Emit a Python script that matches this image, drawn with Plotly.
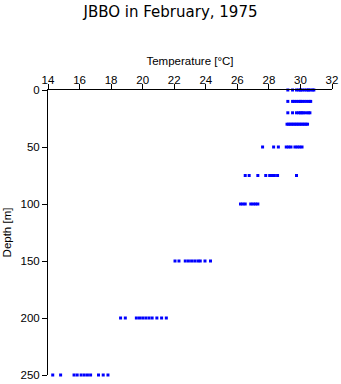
import plotly.graph_objects as go

depths = [0, 10, 20, 30, 50, 75, 100, 150, 200, 250]
temps = {
    0: [29.2, 29.5, 29.75, 29.9, 30.0, 30.1, 30.25, 30.4, 30.5, 30.6, 30.75, 30.85],
    10: [29.2, 29.5, 29.6, 29.75, 29.9, 30.0, 30.1, 30.25, 30.4, 30.55, 30.65],
    20: [29.2, 29.5, 29.75, 29.9, 30.0, 30.1, 30.2, 30.35, 30.5, 30.6],
    30: [29.15, 29.25, 29.35, 29.45, 29.55, 29.65, 29.75, 29.85, 29.95, 30.05,
         30.15, 30.25, 30.35, 30.45],
    50: [27.6, 28.3, 28.6, 29.1, 29.25, 29.4, 29.65, 29.8, 29.95, 30.1],
    75: [26.5, 26.75, 27.3, 27.8, 28.05, 28.2, 28.35, 28.55, 29.75],
    100: [26.2, 26.35, 26.5, 26.85, 27.0, 27.15, 27.3],
    150: [22.05, 22.3, 22.7, 22.9, 23.1, 23.3, 23.5, 23.65, 23.95, 24.3],
    200: [18.6, 18.9, 19.6, 19.8, 20.0, 20.2, 20.4, 20.6, 20.9, 21.2, 21.5],
    250: [14.3, 14.8, 15.65, 15.85, 16.1, 16.3, 16.5, 16.7, 17.2, 17.5, 17.8],
}

xs, ys = [], []
for d in depths:
    for t in temps[d]:
        xs.append(t)
        ys.append(d)

fig = go.Figure()
fig.add_trace(go.Scatter(
    x=xs, y=ys, mode="markers",
    marker=dict(symbol="square", size=3, color="#0000FF", line=dict(width=0)),
    cliponaxis=False, showlegend=False, hoverinfo="x+y",
))

font = "Liberation Sans, Arial, Helvetica, sans-serif"
fig.update_layout(
    width=341, height=384,
    margin=dict(l=48, r=9, t=90, b=9, autoexpand=False),
    paper_bgcolor="white", plot_bgcolor="white",
    font=dict(family=font, size=11, color="black"),
    title=dict(text="JBBO in February, 1975", x=0.5, xanchor="center",
               y=1 - 12 / 384, yanchor="middle",
               font=dict(family="DejaVu Sans, sans-serif", size=15, color="black")),
    xaxis=dict(
        side="top", range=[14, 32], tickvals=list(range(14, 33, 2)),
        ticks="outside", ticklen=5, tickwidth=1, tickcolor="black",
        showline=True, linecolor="black", linewidth=1, showgrid=False,
        zeroline=False, mirror=False, automargin=False,
        ticklabelstandoff=-5,
        title=dict(text="Temperature [°C]", standoff=6, font=dict(size=11.5)),
        tickfont=dict(size=11.5),
    ),
    yaxis=dict(
        range=[250, 0], tickvals=[0, 50, 100, 150, 200, 250],
        ticks="outside", ticklen=5, tickwidth=1, tickcolor="black",
        showline=True, linecolor="black", linewidth=1, showgrid=False,
        zeroline=False, mirror=False, automargin=False,
        title=dict(text="Depth [m]", standoff=6, font=dict(size=11.5)),
        tickfont=dict(size=11.5),
    ),
)

fig.write_html("out.html")
